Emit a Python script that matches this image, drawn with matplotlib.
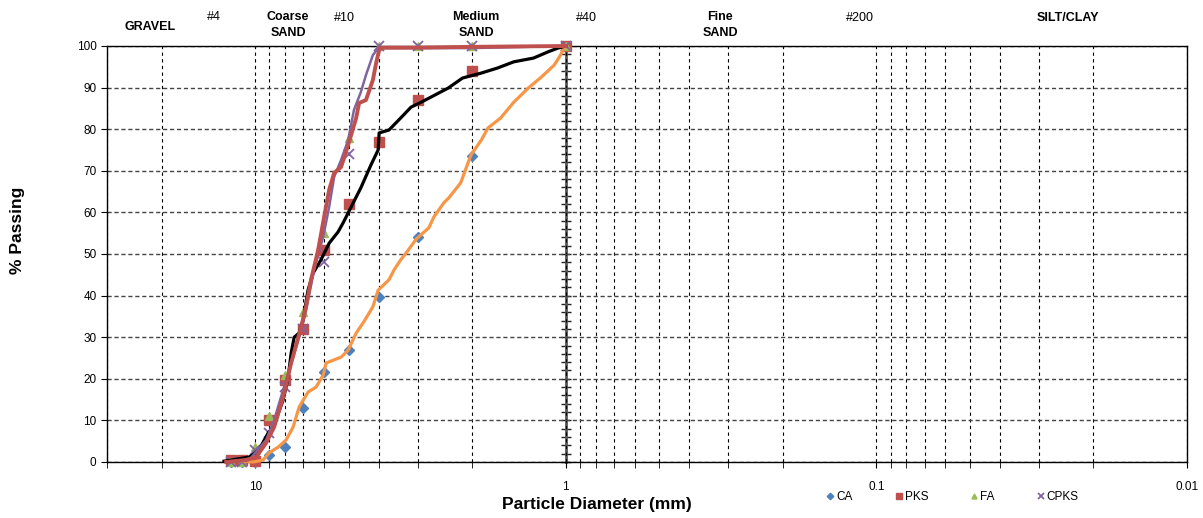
import matplotlib
matplotlib.use("Agg")
import matplotlib.pyplot as plt
import matplotlib.ticker as mticker
import numpy as np

plt.rcParams['font.family'] = ['Liberation Sans Narrow', 'Liberation Sans', 'DejaVu Sans']

# sieve sizes (mm) where the marker series were measured
sizes = [12, 11, 10, 9, 8, 7, 6, 5, 4, 3, 2, 1]
ca = [0, 0, 0, 1.7, 3.6, 13, 21.6, 27, 39.7, 54, 73.6, 100]
pks = [0.5, 0.5, 0.3, 10, 19.7, 32, 51, 62, 77, 87, 94, 100]
fa = [0, 0, 3.6, 11, 21, 36, 55, 78, 100, 100, 100, 100]
cpks = [0, 0, 3, 7, 18, 32, 48, 74, 100, 100, 100, 100]

# continuous gradation curves (mm, % passing)
orange_d = [12, 11, 10.15, 9.43, 9.02, 8.43, 7.95, 7.55, 7.22, 6.76, 6.37, 6.04, 5.91,
            5.29, 5.02, 4.73, 4.47, 4.18, 4.02, 3.71, 3.57, 3.40, 3.27, 3.03, 2.76,
            2.66, 2.47, 2.38, 2.18, 2.02, 1.87, 1.78, 1.62, 1.47, 1.32, 1.20, 1.09,
            1.04, 1.015, 1.0]
orange_p = [0.5, 0.3, 0, 0.5, 2.2, 3.6, 5.3, 8.4, 13.2, 16.8, 18.0, 20.9, 23.8,
            25.2, 26.9, 31.0, 33.7, 37.3, 41.3, 43.8, 46.2, 48.6, 50.2, 53.6, 56.3,
            58.9, 62.3, 63.5, 67.1, 73.8, 77.4, 80.3, 82.7, 86.5, 89.9, 92.5, 95.4,
            97.8, 99.5, 100]

black_d = [12.6, 10.45, 10.07, 9.71, 9.08, 8.75, 8.13, 7.83, 7.66, 7.49, 7.22, 7.01,
           6.76, 6.51, 6.14, 5.78, 5.41, 5.21, 4.91, 4.57, 4.24, 4.02, 3.99, 3.71,
           3.40, 3.15, 2.92, 2.72, 2.39, 2.15, 1.87, 1.66, 1.47, 1.27, 1.14, 1.06, 1.0]
black_p = [0.2, 1.2, 2.0, 3.0, 7.0, 8.4, 14.9, 20.4, 26.2, 30.0, 31.0, 34.1,
           41.3, 45.4, 48.6, 52.6, 55.3, 57.5, 61.3, 65.9, 71.4, 75.0, 79.1, 79.8,
           82.7, 85.3, 86.5, 87.7, 89.9, 92.3, 93.5, 94.7, 96.2, 97.1, 98.6, 99.5, 100]

red_d = [12.4, 10.7, 9.93, 9.22, 8.69, 8.13, 7.66, 7.11, 6.86, 6.61, 6.27, 6.0, 5.78,
         5.57, 5.29, 5.02, 4.73, 4.63, 4.40, 4.18, 4.08, 3.99, 3.95, 3, 2, 1]
red_p = [0, 0.5, 1.2, 4.6, 8.4, 15.6, 23.8, 32.5, 37.3, 43.8, 51.0, 58.9, 65.4,
         69.5, 70.9, 76.2, 82.7, 86.3, 87.0, 91.8, 95.9, 99.0, 99.6, 99.6, 99.8, 100]

purple_d = [12.4, 10.45, 9.22, 8.69, 8.13, 7.55, 7.11, 6.86, 6.46, 6.04, 5.78, 5.57,
            5.29, 5.02, 4.81, 4.57, 4.40, 4.18, 4.02, 3, 2, 1]
purple_p = [0, 0.5, 5.3, 10.1, 17.3, 25.2, 31.7, 36.5, 46.2, 54.1, 61.3, 68.5,
            72.6, 77.4, 84.6, 88.9, 93.0, 97.8, 99.5, 99.5, 99.5, 100]

fig = plt.figure(figsize=(12.03, 5.18), dpi=100)
ax = fig.add_axes([107 / 1203, 1 - 462 / 518, 1080 / 1203, 416 / 518])

ax.set_xscale('log')
ax.set_xlim(30, 0.01)
ax.set_ylim(0, 100)

# marker series
ax.plot(sizes, ca, linestyle='none', marker='D', ms=5.5, color='#4F81BD', label='CA', clip_on=False, zorder=3)
ax.plot(sizes, pks, linestyle='none', marker='s', ms=7.5, color='#C0504D', label='PKS', clip_on=False, zorder=3)
ax.plot(sizes, fa, linestyle='none', marker='^', ms=6, color='#9BBB59', label='FA', clip_on=False, zorder=3)
ax.plot(sizes, cpks, linestyle='none', marker='x', ms=7, mew=1.3, color='#8064A2', label='CPKS', clip_on=False, zorder=3)

# curves
ax.plot(orange_d, orange_p, color='#F79646', lw=2.3, zorder=4, clip_on=False)
ax.plot(black_d, black_p, color='black', lw=2.3, zorder=4, clip_on=False)
ax.plot(purple_d, purple_p, color='#8064A2', lw=1.8, zorder=4, clip_on=False)
ax.plot(red_d, red_p, color='#C0504D', lw=2.8, zorder=5, clip_on=False)

# ticks and grid
ax.xaxis.set_major_locator(mticker.FixedLocator([10, 1, 0.1, 0.01]))
ax.xaxis.set_major_formatter(mticker.FixedFormatter(['10', '1', '0.1', '0.01']))
ax.xaxis.set_minor_locator(mticker.LogLocator(base=10, subs=np.arange(2, 10), numticks=20))
ax.xaxis.set_minor_formatter(mticker.NullFormatter())
ax.yaxis.set_major_locator(mticker.MultipleLocator(10))
ax.tick_params(axis='both', which='major', labelsize=8.5, length=4, direction='out')
ax.tick_params(axis='x', which='minor', length=4, direction='out')
ax.tick_params(axis='x', pad=10)
ax.grid(True, which='both', axis='x', color='black', ls=(0, (3, 3)), lw=0.8)
ax.grid(True, which='major', axis='y', color='#444444', ls=(0, (3, 2)), lw=1.0)
ax.set_axisbelow(True)
for s in ax.spines.values():
    s.set_linewidth(1.0)

# secondary vertical axis drawn at 1 mm
ax2 = ax.twinx()
ax2.set_ylim(0, 100)
for k in ['top', 'bottom', 'right']:
    ax2.spines[k].set_visible(False)
ax2.spines['left'].set_position(('data', 1))
ax2.spines['left'].set_color('#555555')
ax2.spines['left'].set_linewidth(2)
ax2.yaxis.set_ticks_position('left')
ax2.yaxis.set_major_locator(mticker.MultipleLocator(10))
ax2.yaxis.set_minor_locator(mticker.MultipleLocator(2))
ax2.tick_params(axis='y', which='both', direction='inout', length=7, width=1,
                color='#222222', labelleft=False, labelright=False)
ax2.set_zorder(0)
ax.set_zorder(1)
ax.patch.set_visible(False)

# soil class headings
heads = [
    (150, 27, 'GRAVEL', 'bold'),
    (214, 17, '#4', 'normal'),
    (288, 25, 'Coarse\nSAND', 'bold'),
    (344, 18, '#10', 'normal'),
    (476, 25, 'Medium\nSAND', 'bold'),
    (586, 18, '#40', 'normal'),
    (720, 25, 'Fine\nSAND', 'bold'),
    (860, 18, '#200', 'normal'),
    (1068, 18, 'SILT/CLAY', 'bold'),
]
for hx, hy, txt, wt in heads:
    fig.text(hx / 1203, 1 - hy / 518, txt, ha='center', va='center', fontsize=9,
             fontweight=wt, linespacing=1.35)

fig.text(18 / 1203, 1 - 230 / 518, '% Passing', rotation=90, ha='center', va='center',
         fontsize=12.5, fontweight='bold')
fig.text(597 / 1203, 1 - 504 / 518, 'Particle Diameter (mm)', ha='center', va='center',
         fontsize=12.5, fontweight='bold')

leg = ax.legend(loc='center', bbox_to_anchor=(952 / 1203, 1 - 497 / 518),
                bbox_transform=fig.transFigure, ncol=4, frameon=False, fontsize=8.5,
                markerscale=0.6, handlelength=0.8, handletextpad=0.1, columnspacing=3.5)

fig.savefig('out.png', dpi=100)
